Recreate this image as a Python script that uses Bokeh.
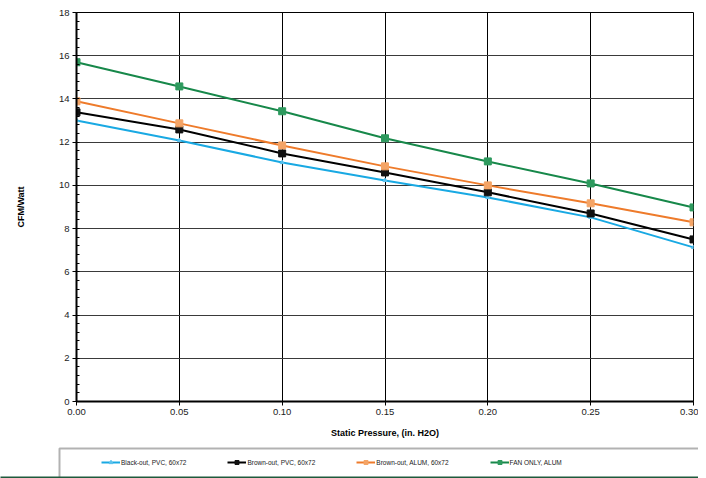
from bokeh.plotting import figure
from bokeh.layouts import column
from bokeh.models import (Legend, LegendItem, BoxAnnotation, FixedTicker,
                          NumeralTickFormatter, Range1d)
from bokeh.embed import file_html
from bokeh.resources import INLINE

# ---- data ----
pressure = [0.00, 0.05, 0.10, 0.15, 0.20, 0.25, 0.30]
blackout_pvc = [13.0, 12.08, 11.06, 10.23, 9.44, 8.52, 7.13]
brownout_pvc = [13.38, 12.59, 11.48, 10.60, 9.68, 8.70, 7.50]
brownout_alum = [13.89, 12.87, 11.85, 10.88, 10.0, 9.17, 8.29]
fan_only_alum = [15.70, 14.58, 13.43, 12.18, 11.11, 10.09, 8.98]
series_names = ["Black-out, PVC, 60x72", "Brown-out, PVC, 60x72",
                "Brown-out, ALUM, 60x72", "FAN ONLY, ALUM"]
x_ticks = [0.0, 0.05, 0.10, 0.15, 0.20, 0.25, 0.30]
y_ticks = [0, 2, 4, 6, 8, 10, 12, 14, 16, 18]
x_label = "Static Pressure, (in. H2O)"
y_label = "CFM/Watt"

FONT = "Liberation Sans"

p = figure(width=698, height=445, output_backend="svg", toolbar_location=None,
           x_range=Range1d(0, 0.30), y_range=Range1d(0, 18),
           min_border_left=76, min_border_right=5, min_border_top=12,
           min_border_bottom=44)
p.frame_align = False
p.background_fill_color = "white"
p.border_fill_color = "white"
p.outline_line_color = "black"
p.outline_line_width = 1

# grid
p.xgrid.ticker = FixedTicker(ticks=x_ticks)
p.ygrid.ticker = FixedTicker(ticks=y_ticks)
p.xgrid.grid_line_color = "black"
p.ygrid.grid_line_color = "#3a3a3a"
p.xgrid.grid_line_width = 1
p.ygrid.grid_line_width = 1

# axes
minor = [i * 0.4 for i in range(46)]
p.yaxis.ticker = FixedTicker(ticks=y_ticks, minor_ticks=minor)
p.xaxis.ticker = FixedTicker(ticks=x_ticks)
p.xaxis.formatter = NumeralTickFormatter(format="0.00")
for ax in (p.xaxis[0], p.yaxis[0]):
    ax.axis_line_color = "black"
    ax.axis_line_width = 2
    ax.major_tick_line_color = "black"
    ax.major_tick_out = 4
    ax.major_tick_in = 0
    ax.major_label_text_font = FONT
    ax.major_label_text_font_size = "9.5px"
    ax.major_label_text_color = "#222222"
    ax.axis_label_text_font = FONT
    ax.axis_label_text_font_size = "9px"
    ax.axis_label_text_font_style = "bold"
    ax.axis_label_text_color = "black"
p.yaxis.minor_tick_in = 3
p.yaxis.minor_tick_out = 0
p.yaxis.minor_tick_line_color = "black"
p.xaxis.minor_tick_line_color = None
p.xaxis.major_label_standoff = 3
p.yaxis.major_label_standoff = 3
p.xaxis.axis_label = x_label
p.yaxis.axis_label = y_label
p.xaxis.axis_label_standoff = 10
p.yaxis.axis_label_standoff = 30

line_colors = ["#19A9E3", "#000000", "#EE7B2B", "#17884A"]
marker_colors = ["#5BC2EE", "#111111", "#F4A466", "#2E9A5E"]
markers = ["triangle", "square", "square", "square"]
sizes = [4, 7, 7, 7]
data_series = [blackout_pvc, brownout_pvc, brownout_alum, fan_only_alum]

# legend strip below the chart
leg = figure(width=698, height=33, output_backend="svg", toolbar_location=None,
             x_range=Range1d(1, 2), y_range=Range1d(100, 101),
             x_axis_location=None, y_axis_location=None,
             min_border_left=0, min_border_right=0, min_border_top=0,
             min_border_bottom=0)
leg.frame_align = False
leg.outline_line_color = None
leg.xgrid.visible = False
leg.ygrid.visible = False
leg.background_fill_color = "white"
leg.border_fill_color = "white"

items = []
for ys, name, lc, mc, mk, sz in zip(data_series, series_names, line_colors,
                                    marker_colors, markers, sizes):
    p.line(pressure, ys, line_color=lc, line_width=2)
    p.scatter(pressure, ys, marker=mk, size=sz, fill_color=mc, line_color=mc)
    r1 = leg.line(pressure, ys, line_color=lc, line_width=2)
    r2 = leg.scatter(pressure, ys, marker=mk, size=sz, fill_color=mc,
                     line_color=mc)
    items.append(LegendItem(label=name, renderers=[r1, r2]))

legend = Legend(items=items, location=(101, 11), orientation="horizontal",
                spacing=41, padding=0, margin=0, glyph_width=19,
                glyph_height=10, label_height=10, label_standoff=1,
                label_text_font=FONT, label_text_font_size="6.5px",
                label_text_color="#1a1a1a",
                border_line_alpha=0, background_fill_alpha=0)
leg.add_layout(legend, "center")

box = BoxAnnotation(left=59, right=760, top=3, bottom=40,
                    left_units="canvas", right_units="canvas",
                    bottom_units="canvas", top_units="canvas",
                    fill_alpha=0, line_color="black", line_width=2)
leg.add_layout(box)
base = BoxAnnotation(left=-5, right=760, top=31, bottom=40,
                     left_units="canvas", right_units="canvas",
                     bottom_units="canvas", top_units="canvas",
                     fill_color="#1E5A3C", fill_alpha=1, line_alpha=0)
leg.add_layout(base)

layout = column(p, leg, spacing=0)
open("out.html", "w").write(file_html(layout, INLINE))
